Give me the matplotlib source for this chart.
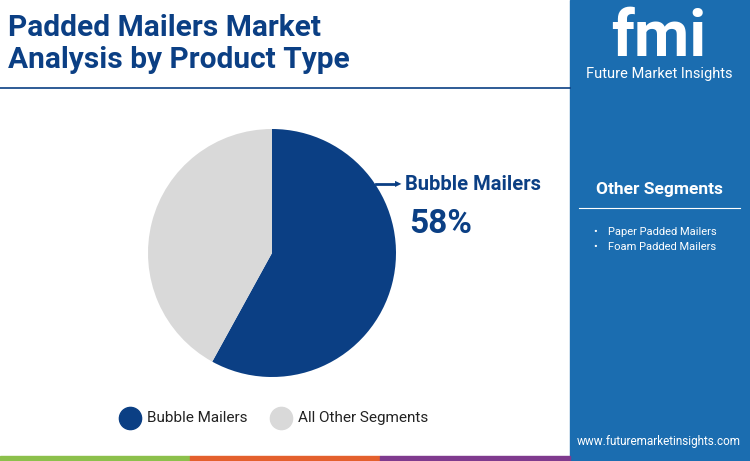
import matplotlib
import matplotlib.pyplot as plt
from matplotlib.patches import Rectangle

matplotlib.use("Agg")
plt.rcParams["font.family"] = ["Roboto", "DejaVu Sans"]

labels = ["Bubble Mailers", "All Other Segments"]
shares = [58, 42]
colors = ["#0b3f84", "#d9d9d9"]
other_segments = ["Paper Padded Mailers", "Foam Padded Mailers"]

W, H = 750, 461
NAVY = "#0b3f84"
PANEL = "#1b6db0"


def fx(x):
    return x / W


def fy(y):
    return 1 - y / H


fig = plt.figure(figsize=(7.5, 4.61), dpi=100)
fig.patch.set_facecolor("white")

# right panel
fig.patches.append(Rectangle((fx(570), 0), 1 - fx(570), 1, transform=fig.transFigure,
                             color=PANEL, zorder=0))
# bottom strip
for x0, c in [(0, "#8cc04b"), (190, "#e4602d"), (380, "#7f3a8e")]:
    fig.patches.append(Rectangle((fx(x0), 0), fx(190), 5 / H, transform=fig.transFigure,
                                 color=c, zorder=1))
# title rule
fig.add_artist(plt.Line2D([0, fx(570)], [fy(88), fy(88)], color=NAVY, lw=1.2))

fig.text(fx(8), fy(44), "Padded Mailers Market\nAnalysis by Product Type", fontsize=21.5,
         fontweight="bold", color=NAVY, va="center", linespacing=1.15)

# logo text
fig.text(fx(659), fy(38), "fmi", fontsize=46, fontweight="bold", color="white",
         ha="center", va="center")
fig.text(fx(659), fy(74), "Future Market Insights", fontsize=10.5, color="white",
         ha="center", va="center")

fig.text(fx(659), fy(189), "Other Segments", fontsize=12.5, fontweight="bold",
         color="white", ha="center", va="center")
fig.add_artist(plt.Line2D([fx(579), fx(740)], [fy(208), fy(208)], color="white", lw=0.8))
for i, s in enumerate(other_segments):
    y = fy(232 + i * 15)
    fig.text(fx(593), y, "\u2022", fontsize=8, color="white", va="center")
    fig.text(fx(608), y, s, fontsize=8, color="white", va="center")

fig.text(fx(659), fy(441), "www.futuremarketinsights.com", fontsize=8.5, color="white",
         ha="center", va="center")

# pie
cx, cy, r = 272, 253, 124
ax = fig.add_axes([fx(cx - r), fy(cy + r), 2 * r / W, 2 * r / H])
ax.pie(shares, colors=colors, startangle=90, counterclock=False, radius=1,
       wedgeprops=dict(linewidth=0))
ax.set_xlim(-1, 1)
ax.set_ylim(-1, 1)
ax.set_aspect("equal")
ax.axis("off")

fig.add_artist(plt.Line2D([fx(376), fx(395)], [fy(184), fy(184)], color=NAVY, lw=2))
fig.text(fx(398), fy(184), "\u25b6", fontsize=6, color=NAVY, va="center", ha="center")
fig.text(fx(405), fy(185), labels[0], fontsize=14.5, fontweight="bold", color=NAVY,
         va="center")
fig.text(fx(409), fy(224), f"{shares[0]}%", fontsize=24, fontweight="bold", color=NAVY,
         va="center")

# legend
for x, lab, c in [(130, labels[0], colors[0]), (281, labels[1], colors[1])]:
    fig.add_artist(plt.Line2D([fx(x)], [fy(418)], marker="o", markersize=16,
                              color=c, lw=0))
    fig.text(fx(x + 17), fy(418), lab, fontsize=11, color="#222222", va="center")

fig.savefig("out.png", dpi=100)
